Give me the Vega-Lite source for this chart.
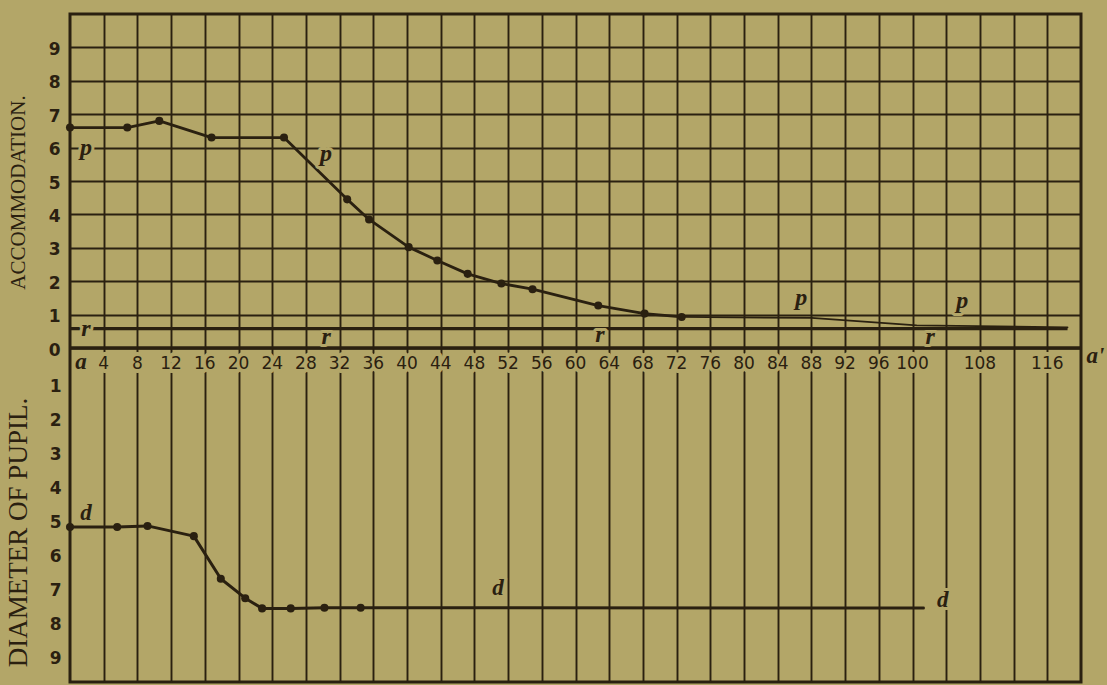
{
  "$schema": "https://vega.github.io/schema/vega-lite/v6.json",
  "width": 1011,
  "height": 668,
  "autosize": "none",
  "padding": {"left": 70, "top": 14, "right": 26, "bottom": 3},
  "background": "#b3a668",
  "config": {
    "view": {"fill": "#b3a668", "stroke": "#2a2010", "strokeWidth": 3},
    "axis": {
      "domain": false,
      "ticks": false,
      "grid": true,
      "gridColor": "#2a2010",
      "gridOpacity": 1,
      "gridWidth": 1.9,
      "labelColor": "#2a2010",
      "titleColor": "#2a2010",
      "labelFont": "DejaVu Sans",
      "labelFontSize": 17,
      "labelFontWeight": "bold",
      "labelOverlap": false,
      "tickCount": 60,
      "titleFont": "Liberation Serif",
      "titleFontWeight": "normal"
    }
  },
  "datasets": {
    "accommodation": [
      {"x": 0, "v": 6.6, "seg": "obs"},
      {"x": 6.8, "v": 6.6, "seg": "obs"},
      {"x": 10.6, "v": 6.8, "seg": "obs"},
      {"x": 16.8, "v": 6.3, "seg": "obs"},
      {"x": 25.4, "v": 6.3, "seg": "obs"},
      {"x": 32.9, "v": 4.45, "seg": "obs"},
      {"x": 35.5, "v": 3.85, "seg": "obs"},
      {"x": 40.2, "v": 3.02, "seg": "obs"},
      {"x": 43.6, "v": 2.62, "seg": "obs"},
      {"x": 47.2, "v": 2.22, "seg": "obs"},
      {"x": 51.2, "v": 1.93, "seg": "obs"},
      {"x": 54.9, "v": 1.76, "seg": "obs"},
      {"x": 62.7, "v": 1.27, "seg": "obs"},
      {"x": 68.2, "v": 1.03, "seg": "obs"},
      {"x": 72.6, "v": 0.93, "seg": "obs"},
      {"x": 72.6, "v": 0.93, "seg": "tail"},
      {"x": 88, "v": 0.9, "seg": "tail"},
      {"x": 100.5, "v": 0.68, "seg": "tail"},
      {"x": 118.4, "v": 0.62, "seg": "tail"}
    ],
    "pupil": [
      {"x": 0, "v": 5.25, "seg": "obs"},
      {"x": 5.6, "v": 5.25, "seg": "obs"},
      {"x": 9.2, "v": 5.22, "seg": "obs"},
      {"x": 14.7, "v": 5.52, "seg": "obs"},
      {"x": 17.9, "v": 6.77, "seg": "obs"},
      {"x": 20.8, "v": 7.34, "seg": "obs"},
      {"x": 22.8, "v": 7.64, "seg": "obs"},
      {"x": 26.2, "v": 7.64, "seg": "obs"},
      {"x": 30.2, "v": 7.62, "seg": "obs"},
      {"x": 34.5, "v": 7.62, "seg": "obs"},
      {"x": 101.3, "v": 7.63, "seg": "tail"}
    ],
    "r": [
      {"x": 0, "v": 0.58},
      {"x": 118.4, "v": 0.58}
    ],
    "notesUpper": [
      {"x": 1.9, "v": 6.0, "label": "p"},
      {"x": 30.4, "v": 5.8, "label": "p"},
      {"x": 86.8, "v": 1.5, "label": "p"},
      {"x": 105.9, "v": 1.4, "label": "p"},
      {"x": 1.9, "v": 0.58, "label": "r"},
      {"x": 30.4, "v": 0.32, "label": "r"},
      {"x": 62.9, "v": 0.38, "label": "r"},
      {"x": 102.1, "v": 0.34, "label": "r"}
    ],
    "notesLower": [
      {"x": 1.9, "v": 4.84, "label": "d"},
      {"x": 50.8, "v": 7.05, "label": "d"},
      {"x": 103.6, "v": 7.4, "label": "d"},
      {"x": 1.3, "v": 0.42, "label": "a"},
      {"x": 121.7, "v": 0.24, "label": "a'"}
    ],
    "xlabels": [
      {"x": 4, "label": "4"}, {"x": 8, "label": "8"}, {"x": 12, "label": "12"},
      {"x": 16, "label": "16"}, {"x": 20, "label": "20"}, {"x": 24, "label": "24"},
      {"x": 28, "label": "28"}, {"x": 32, "label": "32"}, {"x": 36, "label": "36"},
      {"x": 40, "label": "40"}, {"x": 44, "label": "44"}, {"x": 48, "label": "48"},
      {"x": 52, "label": "52"}, {"x": 56, "label": "56"}, {"x": 60, "label": "60"},
      {"x": 64, "label": "64"}, {"x": 68, "label": "68"}, {"x": 72, "label": "72"},
      {"x": 76, "label": "76"}, {"x": 80, "label": "80"}, {"x": 84, "label": "84"},
      {"x": 88, "label": "88"}, {"x": 92, "label": "92"}, {"x": 96, "label": "96"},
      {"x": 100, "label": "100"}, {"x": 108, "label": "108"}, {"x": 116, "label": "116"}
    ]
  },
  "layer": [
    {
      "layer": [
        {
          "data": {"name": "accommodation"},
          "mark": {"type": "line", "color": "#2a2010", "strokeJoin": "round", "strokeCap": "round"},
          "encoding": {
            "x": {
              "field": "x", "type": "quantitative",
              "scale": {"domain": [0, 120], "nice": false, "zero": false},
              "axis": {"orient": "bottom", "values": [4, 8, 12, 16, 20, 24, 28, 32, 36, 40, 44, 48, 52, 56, 60, 64, 68, 72, 76, 80, 84, 88, 92, 96, 100, 104, 108, 112, 116], "tickCount": 60, "labels": false, "title": null, "grid": true, "labelOverlap": false}
            },
            "y": {
              "field": "v", "type": "quantitative",
              "scale": {"domain": [0, 10], "range": [334, 0], "nice": false, "zero": false},
              "axis": {"orient": "left", "values": [0, 1, 2, 3, 4, 5, 6, 7, 8, 9], "tickCount": 60, "format": "d", "title": "ACCOMMODATION.", "titleFontSize": 21, "titleX": -46, "titleY": 178, "titleAngle": -90, "titleBaseline": "alphabetic", "titleAlign": "center", "labelPadding": 10, "labelOffset": 2}
            },
            "detail": {"field": "seg"},
            "strokeWidth": {"condition": {"test": "datum.seg === 'tail'", "value": 1.8}, "value": 2.8}
          }
        },
        {
          "data": {"name": "r"},
          "mark": {"type": "line", "color": "#2a2010", "strokeWidth": 3.2},
          "encoding": {
            "x": {"field": "x", "type": "quantitative"},
            "y": {"field": "v", "type": "quantitative"}
          }
        },
        {
          "data": {"values": [{}]},
          "mark": {"type": "rule", "color": "#2a2010", "strokeWidth": 3.6},
          "encoding": {
            "y": {"datum": 0, "type": "quantitative"}
          }
        },
        {
          "data": {"name": "accommodation"},
          "transform": [{"filter": "datum.seg === 'obs'"}],
          "mark": {"type": "point", "filled": true, "color": "#2a2010", "opacity": 1, "size": 65},
          "encoding": {
            "x": {"field": "x", "type": "quantitative"},
            "y": {"field": "v", "type": "quantitative"}
          }
        },
        {
          "data": {"name": "notesUpper"},
          "mark": {"type": "text", "font": "Liberation Serif", "fontStyle": "italic", "fontWeight": "bold", "fontSize": 24, "baseline": "middle", "align": "center", "fill": "#b3a668", "stroke": "#b3a668", "strokeWidth": 6, "strokeJoin": "round"},
          "encoding": {
            "x": {"field": "x", "type": "quantitative"},
            "y": {"field": "v", "type": "quantitative"},
            "text": {"field": "label"}
          }
        },
        {
          "data": {"name": "notesUpper"},
          "mark": {"type": "text", "font": "Liberation Serif", "fontStyle": "italic", "fontWeight": "bold", "fontSize": 24, "baseline": "middle", "align": "center", "color": "#2a2010"},
          "encoding": {
            "x": {"field": "x", "type": "quantitative"},
            "y": {"field": "v", "type": "quantitative"},
            "text": {"field": "label"}
          }
        }
      ]
    },
    {
      "layer": [
        {
          "data": {"name": "pupil"},
          "mark": {"type": "line", "color": "#2a2010", "strokeWidth": 3, "strokeJoin": "round", "strokeCap": "round"},
          "encoding": {
            "x": {
              "field": "x", "type": "quantitative",
              "axis": {"orient": "bottom", "values": [4, 8, 12, 16, 20, 24, 28, 32, 36, 40, 44, 48, 52, 56, 60, 64, 68, 72, 76, 80, 84, 88, 92, 96, 100, 104, 108, 112, 116], "tickCount": 60, "labels": false, "title": null, "grid": true, "labelOverlap": false}
            },
            "y": {
              "field": "v", "type": "quantitative",
              "scale": {"domain": [0, 9.8], "range": [334, 668], "nice": false, "zero": false},
              "axis": {"orient": "left", "values": [1, 2, 3, 4, 5, 6, 7, 8, 9], "tickCount": 60, "format": "d", "title": "DIAMETER OF PUPIL.", "titleFontSize": 27, "titleX": -44, "titleY": 518, "titleAngle": -90, "titleBaseline": "alphabetic", "titleAlign": "center", "labelPadding": 9, "labelOffset": 4}
            }
          }
        },
        {
          "data": {"name": "pupil"},
          "transform": [{"filter": "datum.seg === 'obs'"}],
          "mark": {"type": "point", "filled": true, "color": "#2a2010", "opacity": 1, "size": 65},
          "encoding": {
            "x": {"field": "x", "type": "quantitative"},
            "y": {"field": "v", "type": "quantitative"}
          }
        },
        {
          "data": {"name": "xlabels"},
          "mark": {"type": "text", "font": "DejaVu Sans", "fontSize": 17, "baseline": "middle", "align": "center", "fill": "#b3a668", "stroke": "#b3a668", "strokeWidth": 8, "strokeJoin": "round"},
          "encoding": {
            "x": {"field": "x", "type": "quantitative"},
            "y": {"datum": 0.46, "type": "quantitative"},
            "text": {"field": "label"}
          }
        },
        {
          "data": {"name": "xlabels"},
          "mark": {"type": "text", "font": "DejaVu Sans", "fontSize": 17, "baseline": "middle", "align": "center", "color": "#2a2010"},
          "encoding": {
            "x": {"field": "x", "type": "quantitative"},
            "y": {"datum": 0.46, "type": "quantitative"},
            "text": {"field": "label"}
          }
        },
        {
          "data": {"name": "notesLower"},
          "mark": {"type": "text", "font": "Liberation Serif", "fontStyle": "italic", "fontWeight": "bold", "fontSize": 23, "baseline": "middle", "align": "center", "fill": "#b3a668", "stroke": "#b3a668", "strokeWidth": 6, "strokeJoin": "round"},
          "encoding": {
            "x": {"field": "x", "type": "quantitative"},
            "y": {"field": "v", "type": "quantitative"},
            "text": {"field": "label"}
          }
        },
        {
          "data": {"name": "notesLower"},
          "mark": {"type": "text", "font": "Liberation Serif", "fontStyle": "italic", "fontWeight": "bold", "fontSize": 23, "baseline": "middle", "align": "center", "color": "#2a2010"},
          "encoding": {
            "x": {"field": "x", "type": "quantitative"},
            "y": {"field": "v", "type": "quantitative"},
            "text": {"field": "label"}
          }
        }
      ]
    }
  ],
  "resolve": {"scale": {"y": "independent"}, "axis": {"y": "independent", "x": "independent"}}
}
